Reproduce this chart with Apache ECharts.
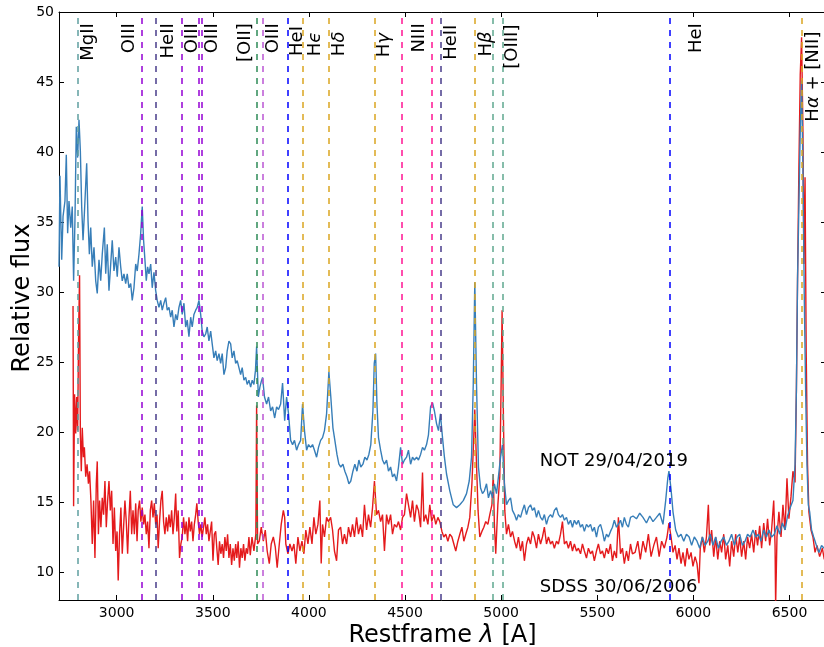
<!DOCTYPE html>
<html>
<head>
<meta charset="utf-8">
<script src="https://cdn.jsdelivr.net/npm/echarts@6/dist/echarts.min.js"></script>
<style>
html, body { margin: 0; padding: 0; background: #fff; }
#chart { width: 824px; height: 647px; }
</style>
</head>
<body>
<div id="chart"></div>
<script>
// NOT 29/04/2019 spectrum (blue)
var notWave = [2700,2705,2714,2721,2731,2738,2745,2752,2761,2769,2776,2783,2790,2797,2804,2811,2818,2825,2832,2839,
  2844,2851,2858,2865,2873,2882,2891,2899,2908,2917,2925,2936,2943,2951,2960,2969,2977,2986,2995,3003,
  3012,3021,3029,3038,3047,3055,3064,3073,3081,3090,3099,3107,3116,3125,3133,3140,3147,3154,3161,3168,
  3177,3185,3194,3203,3211,3220,3229,3237,3246,3255,3263,3272,3281,3289,3298,3307,3315,3324,3333,3341,
  3350,3359,3367,3376,3385,3393,3402,3411,3419,3428,3437,3445,3454,3463,3471,3480,3489,3497,3506,3515,
  3523,3532,3541,3549,3558,3567,3575,3584,3593,3601,3610,3619,3627,3636,3645,3653,3662,3671,3679,3688,
  3697,3705,3714,3722,3728,3737,3745,3752,3759,3769,3780,3790,3801,3811,3822,3832,3842,3853,3863,3874,
  3884,3894,3905,3915,3925,3936,3946,3957,3967,3977,3988,3998,4009,4019,4029,4040,4050,4061,4071,4081,
  4092,4104,4114,4125,4135,4146,4156,4166,4177,4187,4198,4208,4218,4229,4239,4250,4260,4270,4281,4291,
  4302,4312,4322,4333,4340,4347,4354,4362,4373,4383,4393,4404,4414,4425,4435,4445,4456,4466,4477,4487,
  4497,4508,4518,4529,4539,4549,4560,4570,4581,4591,4601,4612,4622,4633,4643,4653,4664,4674,4684,4695,
  4705,4716,4733,4751,4768,4785,4803,4820,4834,4846,4855,4863,4872,4882,4893,4903,4913,4924,4934,4945,
  4955,4965,4976,4986,4997,5007,5017,5028,5038,5049,5059,5070,5080,5090,5101,5111,5121,5132,5142,5153,
  5163,5173,5184,5194,5205,5215,5225,5236,5246,5257,5267,5277,5288,5298,5309,5319,5329,5340,5350,5361,
  5371,5381,5392,5402,5413,5423,5433,5444,5454,5465,5475,5485,5496,5506,5517,5527,5537,5548,5558,5569,
  5579,5589,5600,5610,5621,5631,5641,5652,5662,5673,5686,5704,5721,5738,5756,5773,5790,5808,5825,5842,
  5856,5867,5873,5884,5894,5908,5922,5936,5950,5964,5978,5991,6005,6019,6033,6047,6061,6075,6088,6102,
  6116,6130,6144,6158,6172,6185,6199,6213,6227,6241,6255,6269,6282,6296,6310,6324,6338,6352,6366,6380,
  6393,6407,6421,6435,6449,6463,6477,6490,6504,6518,6529,6536,6542,6549,6556,6563,6570,6577,6584,6591,
  6598,6605,6615,6626,6640,6653,6667,6678,6690];
var notFlux = [31.8,38.3,32.3,35.4,36.5,39.8,34.2,36.5,34.6,36.1,30.8,35.1,41.8,39.6,42.3,40.1,36.1,33.7,35.6,37.7,
  39.2,35.1,32.7,34.6,31.8,33.2,30.8,29.9,32.3,30.8,32.7,34.6,31.3,33.4,30.1,32.0,33.7,31.5,32.5,31.1,
  33.2,31.8,30.8,31.3,30.6,31.3,30.3,30.6,29.4,30.3,32.0,31.5,32.7,34.2,36.1,33.7,32.3,30.8,31.8,31.3,
  32.0,30.3,31.4,30.1,29.4,28.9,29.4,28.7,29.2,29.6,28.7,28.9,28.2,28.7,27.5,28.4,28.0,28.9,29.4,28.4,
  29.2,27.5,28.0,26.8,28.2,27.5,28.4,28.7,28.9,29.4,28.4,27.2,26.8,27.0,27.5,26.5,27.2,26.3,25.3,25.8,
  25.1,25.6,24.9,25.6,24.1,24.6,25.8,26.5,26.3,25.3,25.8,24.9,25.1,24.6,24.1,24.6,23.7,23.9,23.4,23.7,
  23.2,23.7,23.4,24.4,26.1,22.5,23.2,23.6,23.9,22.5,22.0,22.5,21.5,21.8,21.0,21.8,21.6,22.0,23.5,20.8,
  22.5,21.3,19.4,19.1,19.4,18.7,19.1,19.4,22.0,20.1,18.7,19.1,18.9,19.1,18.7,18.2,18.9,19.4,19.6,20.1,
  21.3,24.3,22.5,20.3,19.4,18.4,17.7,17.5,17.7,17.2,16.8,16.3,16.5,17.2,17.7,17.2,18.0,17.5,17.7,18.2,
  18.0,18.4,19.1,21.5,24.9,25.6,22.0,19.6,18.7,18.0,17.7,18.0,17.2,17.5,16.8,17.0,16.5,17.5,18.9,17.7,
  18.0,18.2,18.7,17.7,18.2,18.0,18.2,18.0,18.4,18.9,18.7,19.1,19.8,21.8,22.1,21.5,20.6,20.1,21.3,19.6,
  18.2,17.0,15.8,14.8,14.6,14.8,15.1,15.6,16.5,18.2,23.4,30.7,23.4,17.5,16.0,15.6,15.8,16.3,15.3,15.8,
  15.3,16.3,15.6,16.8,18.2,19.1,16.3,14.8,15.1,15.3,14.4,14.1,13.7,14.1,13.9,14.4,14.8,14.1,14.6,14.8,
  14.4,14.6,13.9,14.4,13.9,13.7,14.1,13.4,13.9,14.1,13.9,14.4,14.6,14.1,13.9,14.1,13.7,13.9,13.4,13.7,
  13.2,13.7,13.4,13.7,13.2,13.4,12.9,13.4,13.2,13.4,12.9,13.2,12.5,13.2,13.4,12.9,12.2,12.7,12.5,12.9,
  13.2,13.7,13.2,13.4,13.7,13.2,13.9,13.4,13.2,13.9,14.0,13.8,14.2,13.9,13.5,14.0,13.6,13.9,14.2,13.4,
  15.1,16.7,17.2,15.9,14.3,13.0,12.5,12.7,12.2,12.7,12.5,11.9,12.5,12.2,11.7,12.5,11.9,12.2,12.7,11.9,
  12.5,11.7,12.2,12.5,11.9,12.2,12.7,11.9,12.5,12.7,11.9,12.2,12.7,12.5,13.0,12.5,12.7,12.2,13.0,12.5,
  13.0,12.5,12.7,13.3,12.7,13.5,13.0,14.0,14.6,15.1,17.7,23.0,30.9,36.2,41.5,45.1,38.9,29.6,23.0,17.7,
  14.8,14.3,13.0,12.5,11.9,11.4,11.9,11.7,12.0];

// SDSS 30/06/2006 spectrum (red)
var sdssWave = [2773,2776,2781,2787,2792,2797,2802,2807,2811,2816,2821,2827,2832,2839,2846,2853,2859,2866,2873,2880,
  2887,2894,2899,2905,2911,2918,2925,2932,2939,2946,2953,2960,2967,2974,2981,2988,2995,3002,3008,3015,
  3022,3029,3036,3043,3050,3057,3064,3071,3078,3085,3092,3099,3106,3112,3119,3126,3133,3140,3147,3154,
  3161,3168,3175,3182,3189,3196,3203,3210,3216,3223,3230,3237,3244,3251,3258,3265,3272,3279,3286,3293,
  3300,3307,3313,3320,3327,3334,3341,3348,3355,3362,3369,3376,3383,3390,3397,3404,3411,3417,3424,3431,
  3438,3445,3452,3459,3466,3473,3480,3487,3494,3501,3508,3515,3521,3528,3535,3542,3549,3556,3563,3570,
  3577,3584,3591,3598,3605,3612,3619,3625,3632,3639,3646,3653,3660,3667,3674,3681,3688,3695,3704,3714,
  3724,3728,3733,3742,3752,3763,3773,3783,3794,3804,3815,3825,3835,3846,3856,3867,3874,3880,3891,3901,
  3912,3922,3932,3943,3953,3964,3974,3984,3995,4005,4016,4026,4036,4047,4057,4064,4071,4081,4092,4102,
  4113,4123,4133,4144,4154,4165,4175,4185,4196,4206,4217,4227,4237,4248,4258,4269,4279,4289,4300,4310,
  4321,4331,4341,4352,4362,4373,4383,4393,4404,4414,4425,4435,4445,4456,4466,4477,4487,4497,4508,4518,
  4529,4539,4549,4560,4570,4581,4591,4598,4608,4619,4629,4639,4650,4660,4671,4681,4692,4702,4712,4723,
  4733,4744,4754,4764,4775,4785,4796,4806,4816,4827,4837,4848,4855,4863,4872,4880,4889,4900,4910,4920,
  4931,4941,4952,4959,4965,4972,4983,4993,5000,5005,5012,5019,5028,5038,5049,5059,5070,5080,5090,5101,
  5111,5121,5132,5142,5153,5163,5173,5184,5194,5205,5215,5225,5236,5246,5257,5267,5277,5288,5298,5309,
  5319,5329,5340,5350,5361,5371,5381,5392,5402,5413,5423,5433,5444,5454,5465,5475,5485,5496,5506,5517,
  5527,5537,5548,5558,5569,5579,5589,5600,5610,5621,5631,5641,5652,5662,5673,5683,5697,5711,5724,5738,
  5752,5766,5780,5794,5808,5822,5835,5849,5863,5873,5884,5894,5905,5915,5925,5936,5946,5957,5967,5977,
  5988,5998,6009,6019,6029,6036,6047,6057,6068,6078,6085,6095,6106,6116,6127,6137,6147,6158,6168,6179,
  6189,6199,6210,6220,6231,6241,6251,6262,6272,6282,6293,6303,6314,6324,6334,6345,6355,6366,6376,6386,
  6397,6407,6418,6425,6428,6435,6445,6456,6466,6477,6487,6497,6508,6518,6529,6536,6542,6549,6556,6563,
  6570,6575,6581,6587,6594,6601,6612,6622,6633,6643,6657,6671,6681,6690];
var sdssFlux = [29.0,14.7,22.7,19.9,22.5,20.1,27.0,31.2,19.9,17.2,20.3,18.2,18.9,16.8,17.7,16.3,17.2,15.1,12.0,15.1,
  11.0,16.3,17.9,12.7,15.1,13.2,15.3,14.1,16.5,13.2,15.1,16.5,14.4,15.8,12.0,14.6,11.5,12.9,9.4,12.7,
  14.6,11.3,13.2,15.1,13.6,11.3,13.9,15.8,12.7,14.4,12.7,14.9,12.2,14.4,15.1,13.6,14.6,13.4,14.1,12.7,
  13.6,11.7,14.4,15.1,13.9,14.9,13.4,14.1,11.7,13.6,15.1,15.8,13.6,12.7,13.9,12.9,14.1,13.2,14.4,12.7,
  13.9,15.6,12.9,14.4,11.0,12.0,12.5,13.9,12.7,13.6,12.2,13.9,12.9,13.6,12.2,13.4,14.1,14.9,13.6,12.7,
  13.4,12.5,13.2,13.9,12.7,13.4,12.2,12.9,13.6,10.8,12.7,12.9,11.7,10.5,12.2,11.3,12.0,11.0,12.5,11.5,
  12.7,11.0,12.0,10.5,11.7,10.8,12.0,11.0,12.2,10.3,11.7,11.0,12.0,10.8,11.7,11.3,12.5,11.2,12.5,11.5,
  12.7,21.9,12.0,12.2,13.2,12.2,13.0,11.5,10.6,12.0,12.5,11.8,10.3,12.0,13.4,14.4,13.9,12.0,11.3,12.0,
  11.5,12.0,10.6,12.5,11.5,12.2,11.3,13.0,12.0,13.2,12.0,13.9,12.7,13.4,15.1,10.6,13.4,12.5,13.9,13.6,
  13.9,13.0,11.5,10.8,13.0,13.2,12.0,12.7,12.0,13.2,12.5,13.4,12.5,13.9,12.7,13.4,12.5,14.8,13.0,14.1,
  13.2,14.6,16.5,14.1,14.4,13.6,14.1,11.5,14.1,13.4,14.1,12.7,13.4,13.2,13.6,13.0,13.9,14.1,15.6,14.8,
  13.9,15.1,13.6,14.8,14.4,13.2,17.1,13.6,14.1,13.4,14.8,13.6,14.1,13.4,13.9,13.6,12.9,12.5,12.7,12.2,
  12.7,12.5,12.0,11.5,12.2,12.7,13.2,12.2,12.7,13.2,13.9,16.3,18.7,21.6,17.7,14.4,12.5,12.9,13.2,13.6,
  13.4,14.1,14.8,17.0,13.4,11.3,14.8,16.8,23.4,28.7,21.0,14.4,12.7,13.4,12.5,12.9,12.2,11.7,12.5,11.5,
  12.2,10.8,12.0,12.5,12.0,12.9,12.5,11.7,12.7,12.0,12.5,13.2,12.0,12.5,12.0,12.2,11.7,12.2,12.0,12.7,
  13.6,12.0,12.2,11.7,12.2,11.5,12.0,11.5,11.7,11.3,12.0,11.5,11.0,11.7,11.3,11.5,10.8,11.5,12.0,11.3,
  11.5,11.0,11.7,11.3,12.0,10.8,11.5,11.0,13.9,11.3,11.7,10.6,11.5,10.8,12.0,11.3,11.4,12.2,10.9,12.2,
  11.4,12.7,11.1,11.9,12.5,11.1,12.2,11.7,12.5,13.5,12.5,11.4,11.9,10.9,11.7,10.6,11.4,10.4,11.7,10.9,
  11.4,10.4,11.1,10.6,9.2,11.7,12.5,11.4,12.5,14.8,11.9,13.0,11.1,12.5,10.9,12.2,11.4,12.7,10.9,11.9,
  10.4,12.2,11.1,12.7,11.4,12.5,11.1,12.2,10.9,12.5,11.7,12.7,11.4,13.0,11.9,13.3,11.7,13.5,12.2,13.8,
  11.9,13.0,15.1,11.9,7.6,12.5,14.3,12.5,14.8,13.0,16.7,13.8,15.4,17.2,16.4,23.0,30.9,38.9,45.5,48.2,
  41.5,32.0,38.2,25.7,17.7,14.3,13.0,12.5,11.4,11.9,11.1,11.7,10.9,11.3];

// emission line markers
var lineWave = [2798, 3133, 3203, 3341, 3429, 3444, 3727, 3760, 3889, 3970, 4102, 4340, 4481, 4640, 4686, 4861, 4959, 5007, 5876, 6563];
var lineKind = ['mg', 'o3', 'he2', 'o3', 'o3', 'o3', 'o2', 'o3b', 'he1', 'h', 'h', 'h', 'n3', 'n3', 'he2', 'h', 'o3f', 'o3f', 'he1', 'h'];
var kindColor = {
  mg: '#5f9ea0', o3: '#9400d3', he2: '#483d8b', o2: '#2e8b57', o3b: '#ba55d3',
  he1: '#0000ff', h: '#daa520', n3: '#ff1493', o3f: '#5fa88e'
};

// line labels: text, wavelength of label centre, flux of label top
var labelText = ['MgII', 'OIII', 'HeII', 'OIII', 'OIII', '[OII]', 'OIII', 'HeI', 'H{g|ϵ}', 'H{g|δ}', 'H{g|γ}', 'NIII', 'HeII', 'H{g|β}', '[OIII]', 'HeI', 'H{g|α} + [NII]'];
var labelWave = [2852, 3068, 3268, 3393, 3497, 3668, 3813, 3938, 4035, 4160, 4394, 4575, 4739, 4921, 5057, 6016, 6622];
var labelTop = [49.2, 49.2, 49.2, 49.2, 49.2, 49.2, 49.2, 49.0, 48.6, 48.6, 48.5, 49.2, 49.1, 48.6, 49.1, 49.2, 48.6];

var noteText = ['NOT 29/04/2019', 'SDSS 30/06/2006'];
var noteWave = [5201, 5201];
var noteFlux = [17.9, 8.9];

var xTicks = [3000, 3500, 4000, 4500, 5000, 5500, 6000, 6500];
var yTicks = [10, 15, 20, 25, 30, 35, 40, 45, 50];

var chart = echarts.init(document.getElementById('chart'));
var font = 'DejaVu Sans';

function zip(a, b) {
  var out = [];
  for (var i = 0; i < a.length; i++) out.push([a[i], b[i]]);
  return out;
}

function plain(v) { return String(v); }

var markData = lineWave.map(function(w, i) {
  return {xAxis: w, lineStyle: {color: kindColor[lineKind[i]], type: [6, 6], width: 1.5}};
});

var option = {
  animation: false,
  backgroundColor: '#fff',
  grid: {left: 59, top: 12, width: 767, height: 588, outerBoundsMode: 'none', containLabel: false},
  xAxis: [{
    type: 'value', min: 2700, max: 6690, position: 'bottom',
    axisLine: {onZero: false, lineStyle: {color: '#000', width: 1}},
    axisTick: {inside: true, length: 5, customValues: xTicks, lineStyle: {color: '#000'}},
    axisLabel: {customValues: xTicks, formatter: plain, color: '#000', fontSize: 14, fontFamily: font, margin: 6},
    splitLine: {show: false},
    name: 'Restframe {g|λ} [A]', nameLocation: 'middle', nameGap: 24, nameMoveOverlap: false,
    nameTextStyle: {color: '#000', fontSize: 24, fontFamily: font,
      rich: {g: {fontStyle: 'italic', fontSize: 24, fontFamily: font, color: '#000'}}}
  }, {
    type: 'value', min: 2700, max: 6690, position: 'top',
    axisLine: {onZero: false, lineStyle: {color: '#000', width: 1}},
    axisTick: {inside: true, length: 5, customValues: xTicks, lineStyle: {color: '#000'}},
    axisLabel: {show: false},
    splitLine: {show: false}
  }],
  yAxis: [{
    type: 'value', min: 8, max: 50, position: 'left',
    axisLine: {onZero: false, lineStyle: {color: '#000', width: 1}},
    axisTick: {inside: true, length: 5, customValues: yTicks, lineStyle: {color: '#000'}},
    axisLabel: {customValues: yTicks, formatter: plain, color: '#000', fontSize: 14, fontFamily: font, margin: 5},
    splitLine: {show: false},
    name: 'Relative flux', nameLocation: 'middle', nameGap: 24, nameMoveOverlap: false,
    nameTextStyle: {color: '#000', fontSize: 24, fontFamily: font, padding: [0, 0, 0, 16]}
  }, {
    type: 'value', min: 8, max: 50, position: 'right',
    axisLine: {onZero: false, lineStyle: {color: '#000', width: 1}},
    axisTick: {inside: true, length: 5, customValues: yTicks, lineStyle: {color: '#000'}},
    axisLabel: {show: false},
    splitLine: {show: false}
  }],
  series: [{
    name: 'SDSS', type: 'line', data: zip(sdssWave, sdssFlux),
    showSymbol: false, symbol: 'none',
    lineStyle: {color: '#e41a1c', width: 1.4}, z: 2
  }, {
    name: 'NOT', type: 'line', data: zip(notWave, notFlux),
    showSymbol: false, symbol: 'none',
    lineStyle: {color: '#377eb8', width: 1.4}, z: 3
  }, {
    name: 'lines', type: 'line', data: [], z: 4,
    markLine: {silent: true, symbol: ['none', 'none'], label: {show: false}, animation: false, data: markData}
  }, {
    name: 'labels', type: 'scatter', z: 5, silent: true,
    symbolSize: 0, itemStyle: {color: '#000', opacity: 1},
    data: zip(labelWave, labelTop),
    label: {
      show: true, position: 'inside', rotate: 90, align: 'right', verticalAlign: 'middle',
      color: '#000', opacity: 1, textBorderWidth: 0, fontSize: 18, fontFamily: font,
      formatter: function(p) { return labelText[p.dataIndex]; },
      rich: {g: {fontStyle: 'italic', fontSize: 18, fontFamily: font, color: '#000'}}
    }
  }, {
    name: 'notes', type: 'scatter', z: 5, silent: true,
    symbolSize: 0, itemStyle: {color: '#000', opacity: 1},
    data: zip(noteWave, noteFlux),
    label: {
      show: true, position: 'inside', align: 'left', verticalAlign: 'middle',
      color: '#000', opacity: 1, textBorderWidth: 0, fontSize: 18, fontFamily: font,
      formatter: function(p) { return noteText[p.dataIndex]; }
    }
  }]
};

chart.setOption(option);
</script>
</body>
</html>
